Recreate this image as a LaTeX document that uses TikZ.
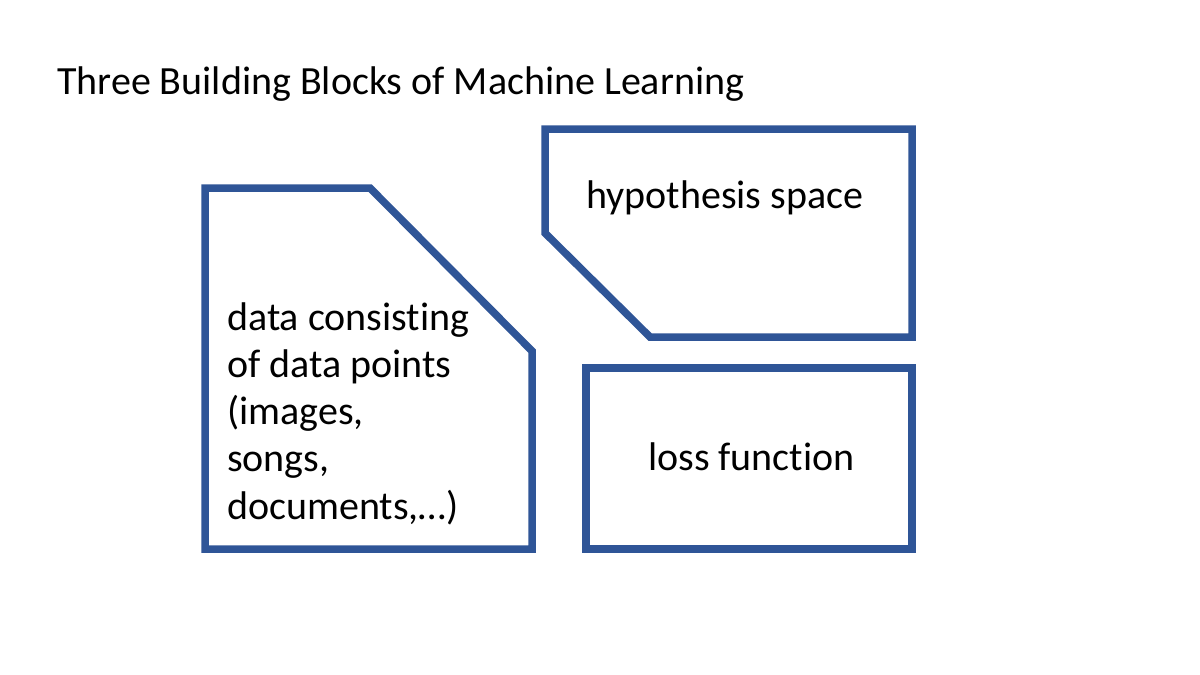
\documentclass[tikz,border=0pt]{standalone}
\usepackage{fontspec}
\setmainfont[Ligatures={NoCommon}]{Carlito}
\definecolor{blockblue}{HTML}{2F5597}
\begin{document}
\begin{tikzpicture}[x=1pt,y=-1pt,
  blockline/.style={draw=blockblue,line width=7.5pt,line join=miter},
  label/.style={font=\fontsize{40}{47.25}\selectfont,inner sep=0pt,anchor=base west}]
\useasboundingbox (0,0) rectangle (1200,675);
% title
\node[label] (title) at (57,94) {Three Building Blocks of Machine Learning};
% data block with cut top-right corner
\draw[blockline] (205,188) -- (370,188) -- (532,351) -- (532,549) -- (205,549) -- cycle;
% multi-line node: its base anchor is the baseline of the last line
\node[label,align=left] (data) at (227,519) {data consisting\\of data points\\(images,\\songs,\\documents,…)};
% hypothesis space block with cut bottom-left corner
\draw[blockline] (545,129) -- (912,129) -- (912,337) -- (650,337) -- (545,233) -- cycle;
\node[label] (hyp) at (586,208) {hypothesis space};
% loss function block
\draw[blockline] (586,368) rectangle (912,549);
\node[label] (loss) at (648,470) {loss function};
\end{tikzpicture}
\end{document}
